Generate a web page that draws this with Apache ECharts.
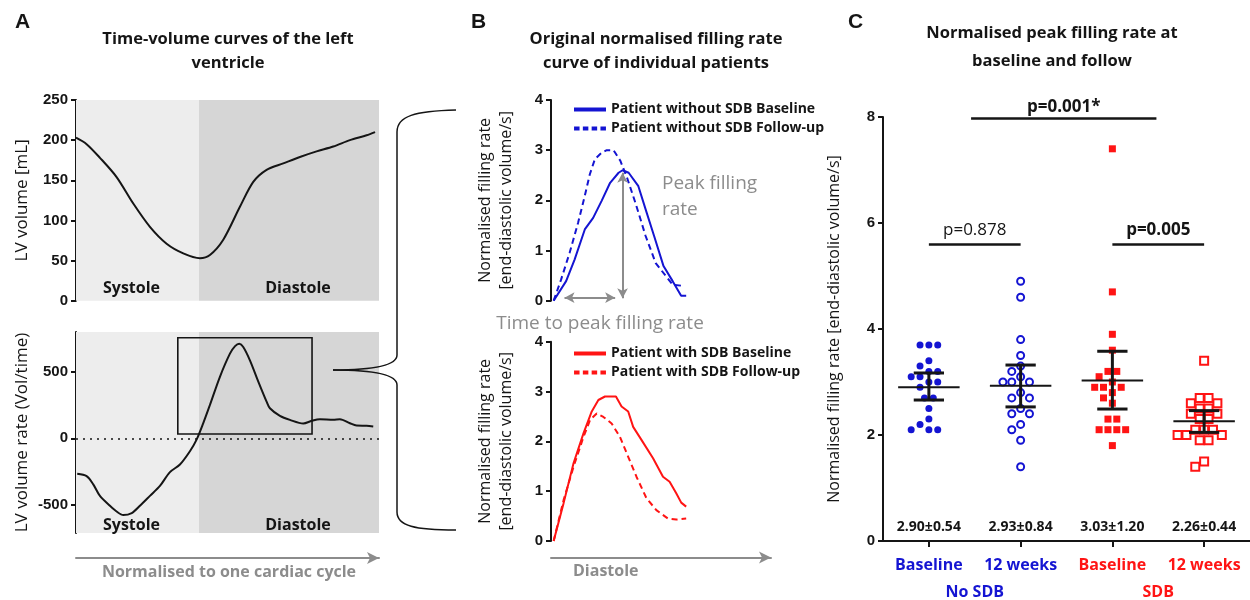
<!DOCTYPE html>
<html>
<head>
<meta charset="utf-8">
<script src="https://cdn.jsdelivr.net/npm/echarts@6.0.0/dist/echarts.min.js"></script>
<style>
html,body{margin:0;padding:0;background:#fff;}
#chart{width:1250px;height:600px;}
</style>
</head>
<body>
<div id="chart"></div>
<script>
// panel A - time-volume curve (time normalised to one cardiac cycle)
var aVolTime = [0, 0.035, 0.079, 0.134, 0.189, 0.244, 0.299, 0.354, 0.409, 0.442, 0.486, 0.541, 0.585, 0.629, 0.684, 0.739, 0.794, 0.849, 0.904, 0.959, 0.987];
var aVolume = [203, 195, 178, 154, 121, 92, 71, 59, 53, 57, 76, 117, 148, 163, 171, 179, 186, 192, 200, 206, 210];
// panel A - volume rate curve
var aRateTime = [0.004, 0.035, 0.057, 0.079, 0.112, 0.134, 0.156, 0.184, 0.211, 0.244, 0.277, 0.310, 0.343, 0.376, 0.398, 0.420, 0.442, 0.475, 0.508, 0.525, 0.539, 0.552, 0.574, 0.602, 0.629, 0.640, 0.673, 0.706, 0.750, 0.778, 0.805, 0.849, 0.871, 0.904, 0.926, 0.959, 0.981];
var aRate = [-266, -284, -346, -433, -507, -550, -577, -562, -507, -433, -358, -254, -197, -97, -10, 114, 251, 463, 637, 694, 711, 687, 587, 425, 276, 226, 169, 139, 112, 132, 144, 139, 144, 114, 97, 95, 90];
var aPhases = ['Systole', 'Diastole'];

// panel B - normalised filling rate curves (time in diastole, normalised)
var bNoBaseTime = [0, 0.094, 0.158, 0.235, 0.298, 0.362, 0.426, 0.49, 0.52, 0.566, 0.638, 0.694, 0.758, 0.829, 0.898, 0.962, 1.0];
var bNoBase = [0, 0.39, 0.82, 1.42, 1.65, 1.99, 2.35, 2.55, 2.60, 2.55, 2.29, 1.82, 1.29, 0.69, 0.39, 0.10, 0.10];
var bNoFollowTime = [0, 0.056, 0.12, 0.184, 0.235, 0.273, 0.311, 0.362, 0.401, 0.452, 0.503, 0.554, 0.617, 0.694, 0.77, 0.847, 0.898, 0.962];
var bNoFollow = [0, 0.42, 0.95, 1.55, 2.09, 2.52, 2.82, 2.95, 3.0, 3.0, 2.79, 2.45, 1.95, 1.29, 0.75, 0.49, 0.32, 0.30];
var bSdbBaseTime = [0, 0.075, 0.15, 0.225, 0.2875, 0.3375, 0.3875, 0.47, 0.5125, 0.5625, 0.6, 0.6625, 0.75, 0.825, 0.875, 0.925, 0.9625, 1.0];
var bSdbBase = [0, 0.76, 1.56, 2.16, 2.6, 2.83, 2.9, 2.9, 2.70, 2.60, 2.29, 2.03, 1.66, 1.29, 1.19, 0.96, 0.77, 0.69];
var bSdbFollowTime = [0, 0.075, 0.15, 0.225, 0.275, 0.325, 0.375, 0.4375, 0.5, 0.5625, 0.625, 0.7, 0.775, 0.8625, 0.925, 1.0];
var bSdbFollow = [0, 0.82, 1.49, 2.09, 2.43, 2.56, 2.49, 2.36, 2.09, 1.69, 1.29, 0.86, 0.62, 0.45, 0.43, 0.45];
var bNames = ['Patient without SDB Baseline', 'Patient without SDB Follow-up', 'Patient with SDB Baseline', 'Patient with SDB Follow-up'];

// panel C - peak filling rate per patient
var cCategories = ['Baseline', '12 weeks', 'Baseline', '12 weeks'];
var cGroups = ['No SDB', 'SDB'];
var noSdbBase = [3.7, 3.7, 3.7, 3.4, 3.3, 3.2, 3.2, 3.1, 3.1, 3.0, 3.0, 2.9, 2.7, 2.7, 2.5, 2.3, 2.2, 2.1, 2.1, 2.1];
var noSdb12 = [4.9, 4.6, 3.8, 3.5, 3.3, 3.2, 3.1, 3.0, 3.0, 3.0, 2.8, 2.7, 2.7, 2.5, 2.4, 2.4, 2.2, 2.1, 1.9, 1.4];
var sdbBase = [7.4, 4.7, 3.9, 3.6, 3.2, 3.2, 3.1, 3.0, 2.9, 2.9, 2.9, 2.8, 2.7, 2.6, 2.3, 2.3, 2.1, 2.1, 2.1, 2.1, 1.8];
var sdb12 = [3.4, 2.7, 2.7, 2.6, 2.6, 2.5, 2.5, 2.4, 2.4, 2.3, 2.3, 2.1, 2.1, 2.1, 2.0, 2.0, 2.0, 1.9, 1.9, 1.5, 1.4];
var cMeans = [2.90, 2.93, 3.03, 2.26];
var cLow = [2.66, 2.53, 2.49, 2.05];
var cHigh = [3.17, 3.32, 3.58, 2.46];
var cSdText = ['2.90±0.54', '2.93±0.84', '3.03±1.20', '2.26±0.44'];
var pTexts = ['p=0.878', 'p=0.005', 'p=0.001*'];

var BLUE = '#1414d2', RED = '#ff1414', GREY = '#8c8c8c', INK = '#151515';
var TXT = 'Open Sans', NUM = 'Liberation Sans, Arial, sans-serif';

function zip(xs, ys){
    var out = [];
    for(var i=0;i<xs.length;i++){out.push([xs[i], ys[i]]);}
    return out;
}

// simple beeswarm: spread equal/near values sideways like the prism dot plot
function swarm(vals, g){
    var stepPx = 9, minDist = 8.2, pxX = 93.33, pxY = 53.25;
    var uniq = [], counts = {}, placed = [];
    vals.forEach(function(v){ if(counts[v]===undefined){counts[v]=0; uniq.push(v);} counts[v]++; });
    uniq.sort(function(a,b){return b-a;});
    function free(x, v){
        for(var k=0;k<placed.length;k++){
            var dx = x-placed[k][0], dy = (v-placed[k][1])*pxY;
            if(Math.sqrt(dx*dx+dy*dy) < minDist){return false;}
        }
        return true;
    }
    uniq.forEach(function(v){
        var n = counts[v], done = false;
        [0, -stepPx/2, stepPx/2].forEach(function(s){
            if(done){return;}
            var xs = [];
            for(var k=0;k<n;k++){xs.push((k-(n-1)/2)*stepPx + s);}
            if(xs.every(function(x){return free(x, v);})){
                xs.forEach(function(x){placed.push([x, v]);});
                done = true;
            }
        });
        if(!done){
            for(var k=0;k<n;k++){
                for(var j=0;j<60;j++){
                    var x = (j%2 ? -1 : 1)*Math.ceil(j/2)*stepPx/2;
                    if(free(x, v)){placed.push([x, v]); break;}
                }
            }
        }
    });
    return placed.map(function(p){return [g + p[0]/pxX, p[1]];});
}

var tickFont = {fontFamily: NUM, fontWeight: 700, fontSize: 15, color: INK};
var axisLine = {show: true, onZero: false, lineStyle: {color: INK, width: 2}};
var axisTick = {show: true, length: 5, lineStyle: {color: INK, width: 2}};
var legendSolid = 'path://M0,0h32v4h-32z';
var legendDash = 'path://M0,0h5.5v4h-5.5z M8.8,0h5.5v4h-5.5z M17.6,0h5.5v4h-5.5z M26.4,0h5.5v4h-5.5z';
var legendText = {fontFamily: TXT, fontWeight: 'bold', fontSize: 14, color: INK};

var myChart = echarts.init(document.getElementById('chart'), null, {renderer: 'canvas'});

var option = {
    backgroundColor: '#fff',
    animation: false,
    title: [
        {text: 'A', left: 10, top: 7, textStyle: {fontFamily: NUM, fontWeight: 'bold', fontSize: 21, color: INK}},
        {text: 'B', left: 466, top: 7, textStyle: {fontFamily: NUM, fontWeight: 'bold', fontSize: 21, color: INK}},
        {text: 'C', left: 843, top: 7, textStyle: {fontFamily: NUM, fontWeight: 'bold', fontSize: 21, color: INK}},
        {text: 'Time-volume curves of the left\nventricle', left: 223, top: 22, textAlign: 'center',
            textStyle: {fontFamily: TXT, fontWeight: 'bold', fontSize: 16.5, lineHeight: 24, color: INK}},
        {text: 'Original normalised filling rate\ncurve of individual patients', left: 651, top: 22, textAlign: 'center',
            textStyle: {fontFamily: TXT, fontWeight: 'bold', fontSize: 16.5, lineHeight: 24, color: INK}},
        {text: 'Normalised peak filling rate at\nbaseline and follow', left: 1047, top: 14, textAlign: 'center',
            textStyle: {fontFamily: TXT, fontWeight: 'bold', fontSize: 16.5, lineHeight: 28, color: INK}},
        {text: 'Peak filling\nrate', left: 657, top: 166, textStyle: {fontFamily: TXT, fontWeight: 'normal', fontSize: 19, lineHeight: 26, color: GREY}},
        {text: 'Time to peak filling rate', left: 595, top: 309, textAlign: 'center', textStyle: {fontFamily: TXT, fontWeight: 'normal', fontSize: 19, color: GREY}},
        {text: 'Diastole', left: 568, top: 558, textStyle: {fontFamily: TXT, fontWeight: 'bold', fontSize: 16, color: GREY}},
        {text: 'Normalised to one cardiac cycle', left: 224, top: 559, textAlign: 'center', textStyle: {fontFamily: TXT, fontWeight: 'bold', fontSize: 16, color: GREY}}
    ],
    legend: [
        {data: [{name: bNames[0], icon: legendSolid}, {name: bNames[1], icon: legendDash}],
            orient: 'vertical', left: 569, top: 95, itemWidth: 32, itemHeight: 4, itemGap: 0,
            selectedMode: false, textStyle: Object.assign({lineHeight: 19}, legendText)},
        {data: [{name: bNames[2], icon: legendSolid}, {name: bNames[3], icon: legendDash}],
            orient: 'vertical', left: 569, top: 339, itemWidth: 32, itemHeight: 4, itemGap: 0,
            selectedMode: false, textStyle: Object.assign({lineHeight: 19}, legendText)}
    ],
    graphic: [
        // brace linking the boxed part of panel A to panel B
        {type: 'group', silent: true, z: 100, children: [
            {type: 'bezierCurve', z: 100, shape: {x1: 456, y1: 110, cpx1: 415, cpy1: 111, cpx2: 397, cpy2: 116, x2: 397, y2: 132}, style: {stroke: INK, lineWidth: 1.5, fill: null}},
            {type: 'line', z: 100, shape: {x1: 397, y1: 132, x2: 397, y2: 355}, style: {stroke: INK, lineWidth: 1.5}},
            {type: 'bezierCurve', z: 100, shape: {x1: 397, y1: 355, cpx1: 397, cpy1: 367, cpx2: 365, cpy2: 370, x2: 333, y2: 370}, style: {stroke: INK, lineWidth: 1.5, fill: null}},
            {type: 'bezierCurve', z: 100, shape: {x1: 333, y1: 370, cpx1: 365, cpy1: 370, cpx2: 397, cpy2: 373, x2: 397, y2: 385}, style: {stroke: INK, lineWidth: 1.5, fill: null}},
            {type: 'line', z: 100, shape: {x1: 397, y1: 385, x2: 397, y2: 512}, style: {stroke: INK, lineWidth: 1.5}},
            {type: 'bezierCurve', z: 100, shape: {x1: 397, y1: 512, cpx1: 397, cpy1: 526, cpx2: 415, cpy2: 530, x2: 456, y2: 530}, style: {stroke: INK, lineWidth: 1.5, fill: null}}
        ]}
    ],
    grid: [
        {left: 76, top: 100, width: 303, height: 200.7},
        {left: 76, top: 332, width: 303, height: 201},
        {left: 551, top: 100, width: 220, height: 200.7},
        {left: 551, top: 341.7, width: 220, height: 199.3},
        {left: 883, top: 117, width: 373.3, height: 426.3}
    ],
    xAxis: [
        {gridIndex: 0, type: 'value', min: 0, max: 1, show: false, position: 'bottom'},
        {gridIndex: 1, type: 'value', min: 0, max: 1, position: 'bottom', offset: 25,
            axisLine: {show: true, onZero: false, symbol: ['none', 'arrow'], symbolSize: [9, 12], lineStyle: {color: GREY, width: 2}},
            axisTick: {show: false}, axisLabel: {show: false}, splitLine: {show: false}},
        {gridIndex: 2, type: 'value', min: -0.02, max: 1.64, show: false, position: 'bottom'},
        {gridIndex: 3, type: 'value', min: -0.02, max: 1.64, position: 'bottom', offset: 16.5,
            axisLine: {show: true, onZero: false, symbol: ['none', 'arrow'], symbolSize: [9, 12], lineStyle: {color: GREY, width: 2}},
            axisTick: {show: false}, axisLabel: {show: false}, splitLine: {show: false}},
        {gridIndex: 4, type: 'category', data: cCategories, position: 'bottom', boundaryGap: true,
            axisLine: axisLine, axisTick: {show: true, alignWithLabel: true, length: 6, lineStyle: {color: INK, width: 2}},
            axisLabel: {interval: 0, margin: 16, fontFamily: TXT, fontWeight: 'bold', fontSize: 16,
                color: function(v, i){return i < 2 ? BLUE : RED;}}},
        {gridIndex: 4, type: 'value', min: -0.5, max: 3.5, show: false, position: 'top'},
        {gridIndex: 4, type: 'category', data: cGroups, position: 'bottom', offset: 26, boundaryGap: true,
            axisLine: {show: false}, axisTick: {show: false},
            axisLabel: {interval: 0, margin: 17, fontFamily: TXT, fontWeight: 'bold', fontSize: 16,
                color: function(v, i){return i < 1 ? BLUE : RED;}}},
        {gridIndex: 4, type: 'category', data: cSdText, position: 'bottom', boundaryGap: true,
            axisLine: {show: false}, axisTick: {show: false},
            axisLabel: {interval: 0, inside: true, margin: 7, fontFamily: TXT, fontWeight: 'bold', fontSize: 14, color: INK}}
    ],
    yAxis: [
        {gridIndex: 0, type: 'value', min: 0, max: 250, interval: 50, position: 'left',
            name: 'LV volume [mL]', nameLocation: 'middle', nameGap: 45, nameMoveOverlap: false,
            nameTextStyle: {fontFamily: TXT, fontSize: 17, color: INK},
            axisLine: axisLine, axisTick: axisTick, axisLabel: Object.assign({margin: 8}, tickFont), splitLine: {show: false}},
        {gridIndex: 1, type: 'value', min: -712, max: 800, position: 'left',
            name: 'LV volume rate (Vol/time)', nameLocation: 'middle', nameGap: 45, nameMoveOverlap: false,
            nameTextStyle: {fontFamily: TXT, fontSize: 17, color: INK},
            axisLine: axisLine, axisTick: Object.assign({customValues: [-500, 0, 500]}, axisTick),
            axisLabel: Object.assign({margin: 8, customValues: [-500, 0, 500]}, tickFont), splitLine: {show: false}},
        {gridIndex: 2, type: 'value', min: 0, max: 4, interval: 1, position: 'left',
            name: 'Normalised filling rate\n[end-diastolic volume/s]', nameLocation: 'middle', nameGap: 34, nameMoveOverlap: false,
            nameTextStyle: {fontFamily: TXT, fontSize: 16, lineHeight: 21, color: INK},
            axisLine: axisLine, axisTick: axisTick, axisLabel: Object.assign({margin: 8}, tickFont), splitLine: {show: false}},
        {gridIndex: 3, type: 'value', min: 0, max: 4, interval: 1, position: 'left',
            name: 'Normalised filling rate\n[end-diastolic volume/s]', nameLocation: 'middle', nameGap: 34, nameMoveOverlap: false,
            nameTextStyle: {fontFamily: TXT, fontSize: 16, lineHeight: 21, color: INK},
            axisLine: axisLine, axisTick: axisTick, axisLabel: Object.assign({margin: 8}, tickFont), splitLine: {show: false}},
        {gridIndex: 4, type: 'value', min: 0, max: 8, interval: 2, position: 'left',
            name: 'Normalised filling rate [end-diastolic volume/s]', nameLocation: 'middle', nameGap: 41, nameMoveOverlap: false,
            nameTextStyle: {fontFamily: TXT, fontSize: 16, color: INK},
            axisLine: axisLine, axisTick: axisTick, axisLabel: Object.assign({margin: 8}, tickFont), splitLine: {show: false}}
    ],
    series: [
        {
            type: 'line', xAxisIndex: 0, yAxisIndex: 0, data: zip(aVolTime, aVolume), smooth: 0.3, symbol: 'none',
            lineStyle: {color: INK, width: 2}, z: 3,
            markArea: {silent: true,
                label: {show: true, position: 'insideBottom', distance: 4, fontFamily: TXT, fontWeight: 'bold', fontSize: 16, lineHeight: 17, color: INK},
                data: [
                    [{name: aPhases[0], xAxis: 0, itemStyle: {color: '#ededed'}, label: {offset: [-6, 0]}}, {xAxis: 0.406}],
                    [{name: aPhases[1], xAxis: 0.406, itemStyle: {color: '#d6d6d6'}, label: {offset: [9, 0]}}, {xAxis: 1}]
                ]}
        },
        {
            type: 'line', xAxisIndex: 1, yAxisIndex: 1, data: zip(aRateTime, aRate), smooth: 0.3, symbol: 'none',
            lineStyle: {color: INK, width: 2}, z: 3,
            markArea: {silent: true,
                label: {show: true, position: 'insideBottom', distance: -1, fontFamily: TXT, fontWeight: 'bold', fontSize: 16, lineHeight: 17, color: INK},
                data: [
                    [{name: aPhases[0], xAxis: 0, itemStyle: {color: '#ededed'}, label: {offset: [-6, 0]}}, {xAxis: 0.406}],
                    [{name: aPhases[1], xAxis: 0.406, itemStyle: {color: '#d6d6d6'}, label: {offset: [9, 0]}}, {xAxis: 1}],
                    [{name: '', coord: [0.336, 757], itemStyle: {color: 'rgba(0,0,0,0)', borderColor: INK, borderWidth: 1.6}, label: {show: false}}, {coord: [0.779, 33]}]
                ]},
            markLine: {silent: true, symbol: 'none', label: {show: false},
                lineStyle: {color: INK, width: 1.6, type: [2, 5]},
                data: [{yAxis: 0}]}
        },
        {
            name: bNames[0], type: 'line', xAxisIndex: 2, yAxisIndex: 2, data: zip(bNoBaseTime, bNoBase), symbol: 'none',
            lineStyle: {color: BLUE, width: 2}, itemStyle: {color: BLUE},
            markLine: {silent: true, symbol: ['arrow', 'arrow'], symbolSize: [8, 10], label: {show: false},
                lineStyle: {color: GREY, width: 2, type: 'solid'},
                data: [
                    [{coord: [0.52, 0.05]}, {coord: [0.52, 2.55]}],
                    [{coord: [0.082, 0.06]}, {coord: [0.464, 0.06]}]
                ]}
        },
        {
            name: bNames[1], type: 'line', xAxisIndex: 2, yAxisIndex: 2, data: zip(bNoFollowTime, bNoFollow), symbol: 'none',
            lineStyle: {color: BLUE, width: 2, type: [6, 4]}, itemStyle: {color: BLUE}
        },
        {
            name: bNames[2], type: 'line', xAxisIndex: 3, yAxisIndex: 3, data: zip(bSdbBaseTime, bSdbBase), symbol: 'none',
            lineStyle: {color: RED, width: 2}, itemStyle: {color: RED}
        },
        {
            name: bNames[3], type: 'line', xAxisIndex: 3, yAxisIndex: 3, data: zip(bSdbFollowTime, bSdbFollow), symbol: 'none',
            lineStyle: {color: RED, width: 2, type: [6, 4]}, itemStyle: {color: RED}
        },
        {
            type: 'scatter', xAxisIndex: 5, yAxisIndex: 4, data: swarm(noSdbBase, 0), symbol: 'circle', symbolSize: 7,
            itemStyle: {color: BLUE, opacity: 1},
            markLine: {silent: true, symbol: 'none', lineStyle: {color: INK, width: 2.5, type: 'solid'},
                label: {show: true, position: 'middle', distance: 6, fontFamily: TXT, fontSize: 17, color: INK, formatter: '{b}'},
                data: [
                    [{name: pTexts[0], coord: [0, 5.6]}, {coord: [1, 5.6]}],
                    [{name: pTexts[1], coord: [2, 5.6], label: {fontWeight: 'bold'}}, {coord: [3, 5.6]}],
                    [{name: pTexts[2], coord: [0.46, 7.97], label: {fontWeight: 'bold', distance: 3}}, {coord: [2.48, 7.97]}]
                ]}
        },
        {
            type: 'scatter', xAxisIndex: 5, yAxisIndex: 4, data: swarm(noSdb12, 1), symbol: 'circle', symbolSize: 7,
            itemStyle: {color: '#fff', borderColor: BLUE, borderWidth: 2, opacity: 1}
        },
        {
            type: 'scatter', xAxisIndex: 5, yAxisIndex: 4, data: swarm(sdbBase, 2), symbol: 'rect', symbolSize: 7,
            itemStyle: {color: RED, opacity: 1}
        },
        {
            type: 'scatter', xAxisIndex: 5, yAxisIndex: 4, data: swarm(sdb12, 3), symbol: 'rect', symbolSize: 8,
            itemStyle: {color: '#fff', borderColor: RED, borderWidth: 2, opacity: 1}
        },
        {
            type: 'custom', xAxisIndex: 5, yAxisIndex: 4, z: 5,
            data: cMeans.map(function(m, i){return [i, m, cLow[i], cHigh[i]];}),
            renderItem: function(params, api){
                var i = api.value(0), m = api.value(1), lo = api.value(2), hi = api.value(3);
                var a = api.coord([i - 0.335, m]), b = api.coord([i + 0.335, m]);
                var t = api.coord([i, hi]), u = api.coord([i, lo]);
                var cl = api.coord([i - 0.165, hi])[0], cr = api.coord([i + 0.165, hi])[0];
                var st = {stroke: INK, lineWidth: 3};
                return {type: 'group', children: [
                    {type: 'line', shape: {x1: a[0], y1: a[1], x2: b[0], y2: b[1]}, style: {stroke: INK, lineWidth: 2}},
                    {type: 'line', shape: {x1: t[0], y1: t[1], x2: u[0], y2: u[1]}, style: st},
                    {type: 'line', shape: {x1: cl, y1: t[1], x2: cr, y2: t[1]}, style: st},
                    {type: 'line', shape: {x1: cl, y1: u[1], x2: cr, y2: u[1]}, style: st}
                ]};
            }
        }
    ]
};

myChart.setOption(option);
window.addEventListener('resize', function(){myChart.resize();});
</script>
</body>
</html>
